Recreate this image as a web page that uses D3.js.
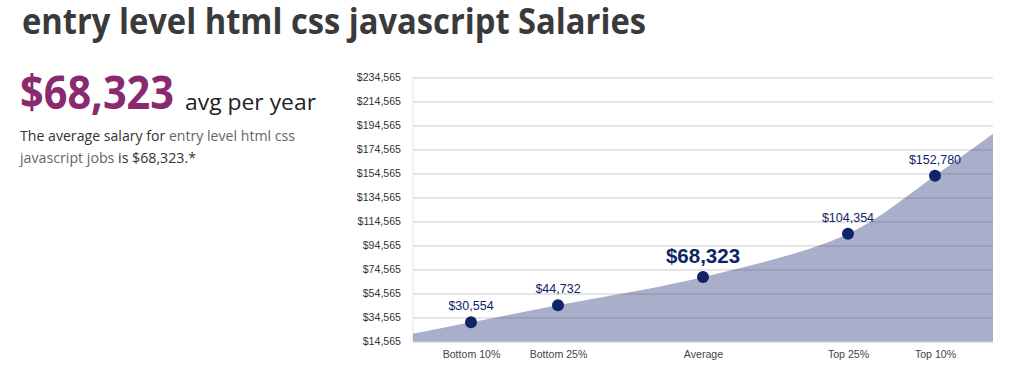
<!DOCTYPE html>
<html lang="en">
<head>
  <meta charset="UTF-8">
  <title>entry level html css javascript Salaries</title>
  <style>
    body { margin: 0; background: #fff; }
    .axis text { font-family: "Liberation Sans", Arial, sans-serif; }
  </style>
</head>
<body>
  <svg class="chart"></svg>
  <script src="https://cdn.jsdelivr.net/npm/d3@7"></script>
  <script>
    // percentile positions and salary values
    var percentiles = [10, 25, 50, 75, 90];
    var categories = ["Bottom 10%", "Bottom 25%", "Average", "Top 25%", "Top 10%"];
    var salaries = [30554, 44732, 68323, 104354, 152780];
    // area curve including the ends at 0 and 100
    var curvePct = [0, 10, 25, 50, 75, 90, 100];
    var curveVals = [21000, 30554, 44732, 68323, 104354, 152780, 187600];
    var yTicks = [14565, 34565, 54565, 74565, 94565, 114565, 134565, 154565, 174565, 194565, 214565, 234565];

    var svgWidth = 1024, svgHeight = 389;
    var plotLeft = 413, plotRight = 993, plotTop = 77.5, plotBottom = 341.5;
    var navy = "#0f2466";

    var svg = d3.select("svg")
      .attr("width", svgWidth)
      .attr("height", svgHeight);

    // headline + summary text
    svg.append("text")
      .attr("x", 22).attr("y", 34)
      .attr("font-family", "'Open Sans', sans-serif")
      .attr("font-weight", 700)
      .attr("font-size", 35)
      .attr("fill", "#3a3a3a")
      .attr("textLength", 624)
      .attr("lengthAdjust", "spacingAndGlyphs")
      .text("entry level html css javascript Salaries");

    svg.append("text")
      .attr("x", 20).attr("y", 109)
      .attr("font-family", "'Open Sans', sans-serif")
      .attr("font-weight", 700)
      .attr("font-size", 46)
      .attr("fill", "#8a2a6e")
      .attr("textLength", 154)
      .attr("lengthAdjust", "spacingAndGlyphs")
      .text("$68,323");

    svg.append("text")
      .attr("x", 185).attr("y", 110)
      .attr("font-family", "'Open Sans', sans-serif")
      .attr("font-size", 22)
      .attr("fill", "#222")
      .attr("textLength", 131)
      .attr("lengthAdjust", "spacingAndGlyphs")
      .text("avg per year");

    var p1 = svg.append("text")
      .attr("x", 20).attr("y", 141)
      .attr("font-family", "'Open Sans', sans-serif")
      .attr("font-size", 14.5)
      .attr("textLength", 275)
      .attr("lengthAdjust", "spacingAndGlyphs");
    p1.append("tspan").attr("fill", "#333").text("The average salary for ");
    p1.append("tspan").attr("fill", "#666").text("entry level html css");

    var p2 = svg.append("text")
      .attr("x", 20).attr("y", 163)
      .attr("font-family", "'Open Sans', sans-serif")
      .attr("font-size", 14.5)
      .attr("textLength", 176)
      .attr("lengthAdjust", "spacingAndGlyphs");
    p2.append("tspan").attr("fill", "#666").text("javascript jobs");
    p2.append("tspan").attr("fill", "#333").text(" is $68,323.*");

    // scales
    var xScale = d3.scaleLinear().domain([0, 100]).range([plotLeft, plotRight]);
    var yScale = d3.scaleLinear().domain([14565, 234565]).range([plotBottom, plotTop]);

    // grid lines + y labels first, the area sits on top semi transparent
    var y_axis = d3.axisLeft(yScale)
      .tickValues(yTicks)
      .tickSize(-(plotRight - plotLeft))
      .tickPadding(12)
      .tickFormat(function (d) { return "$" + d3.format(",")(d); });

    var gy = svg.append("g")
      .attr("class", "axis")
      .attr("transform", "translate(" + plotLeft + ",0)")
      .call(y_axis);
    gy.select(".domain").attr("stroke", "#e6e6e6").attr("d", "M0," + plotTop + "V" + plotBottom);
    gy.selectAll(".tick line").attr("stroke", "#dcdcdc").attr("stroke-width", 1.5);
    gy.selectAll(".tick text").attr("font-size", 10.6).attr("fill", "#333");

    var area = d3.area()
      .x(function (d) { return xScale(d[0]); })
      .y0(plotBottom)
      .y1(function (d) { return yScale(d[1]); })
      .curve(d3.curveCatmullRom);

    svg.append("path")
      .datum(d3.zip(curvePct, curveVals))
      .attr("d", area)
      .attr("fill", "#222e76")
      .attr("fill-opacity", 0.39);

    var x_axis = d3.axisBottom(xScale)
      .tickValues(percentiles)
      .tickSize(0)
      .tickPadding(9)
      .tickFormat(function (d, i) { return categories[i]; });

    var gx = svg.append("g")
      .attr("class", "axis")
      .attr("transform", "translate(0," + plotBottom + ")")
      .call(x_axis);
    gx.select(".domain").remove();
    gx.selectAll(".tick text").attr("font-size", 10.6).attr("fill", "#444");

    // points
    svg.selectAll("circle.pt")
      .data(salaries)
      .enter()
      .append("circle")
      .attr("class", "pt")
      .attr("cx", function (d, i) { return xScale(percentiles[i]); })
      .attr("cy", function (d) { return yScale(d); })
      .attr("r", 6)
      .attr("fill", navy);

    // value labels
    svg.selectAll("text.val")
      .data(salaries)
      .enter()
      .append("text")
      .attr("class", "val")
      .attr("x", function (d, i) { return xScale(percentiles[i]); })
      .attr("y", function (d, i) { return yScale(d) - (i == 2 ? 14 : 12); })
      .attr("text-anchor", "middle")
      .attr("font-family", "'Liberation Sans', Arial, sans-serif")
      .attr("font-size", function (d, i) { return i == 2 ? 20.5 : 12.5; })
      .attr("font-weight", function (d, i) { return i == 2 ? 700 : 400; })
      .attr("fill", navy)
      .text(function (d) { return "$" + d3.format(",")(d); });
  </script>
</body>
</html>
